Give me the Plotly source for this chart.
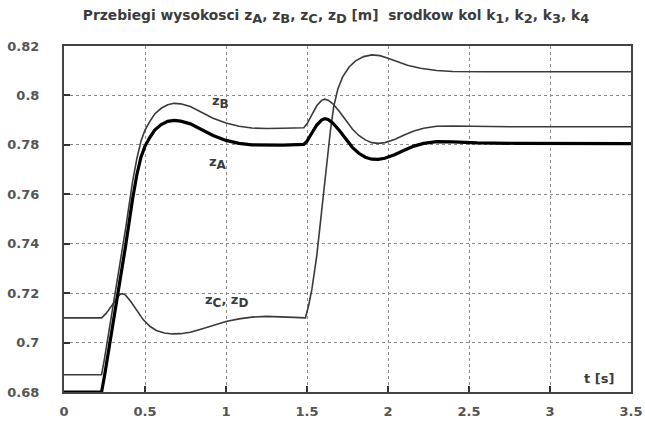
import plotly.graph_objects as go

t_A = [0, 0.232, 0.25, 0.30, 0.335, 0.38, 0.423, 0.45, 0.475, 0.50, 0.53, 0.56, 0.60, 0.64, 0.68, 0.72, 0.78, 0.85, 0.92, 1.0,
       1.08, 1.16, 1.25, 1.35, 1.48, 1.50, 1.53, 1.56, 1.59, 1.61, 1.63, 1.66, 1.70, 1.74, 1.78, 1.82, 1.86, 1.90, 1.94, 1.98,
       2.04, 2.10, 2.16, 2.22, 2.30, 2.40, 2.55, 2.8, 3.5]
z_A = [0.68, 0.68, 0.6865, 0.706, 0.72, 0.739, 0.758, 0.768, 0.775, 0.7795, 0.783, 0.786, 0.7882, 0.7895, 0.7899, 0.7896, 0.7885, 0.7862, 0.7838, 0.7818,
       0.7806, 0.7800, 0.7798, 0.7799, 0.7802, 0.7815, 0.7848, 0.7880, 0.7900, 0.7906, 0.7903, 0.7888, 0.7858, 0.7822, 0.7790, 0.7766, 0.7750, 0.7742, 0.7741, 0.7746,
       0.7760, 0.7778, 0.7795, 0.7806, 0.7813, 0.7812, 0.7808, 0.7806, 0.7805]

t_B = [0, 0.232, 0.25, 0.30, 0.335, 0.38, 0.423, 0.45, 0.475, 0.50, 0.53, 0.56, 0.60, 0.64, 0.68, 0.72, 0.78, 0.85, 0.92, 1.0,
       1.08, 1.16, 1.25, 1.35, 1.48, 1.50, 1.53, 1.56, 1.59, 1.61, 1.63, 1.66, 1.70, 1.74, 1.78, 1.82, 1.86, 1.90, 1.94, 1.98,
       2.04, 2.10, 2.16, 2.22, 2.30, 2.40, 2.55, 2.8, 3.5]
z_B = [0.687, 0.687, 0.6935, 0.713, 0.727, 0.746, 0.765, 0.7745, 0.7815, 0.786, 0.7895, 0.7925, 0.7948, 0.7962, 0.7968, 0.7966, 0.7955, 0.7932, 0.7908, 0.7888,
       0.7875, 0.7868, 0.7866, 0.7867, 0.7869, 0.7885, 0.7922, 0.7958, 0.7980, 0.7985, 0.7981, 0.7966, 0.7935, 0.7898, 0.7864, 0.7838, 0.7820, 0.7809, 0.7806, 0.7809,
       0.7822, 0.7840, 0.7856, 0.7867, 0.7875, 0.7876, 0.7874, 0.7873, 0.7873]

t_C = [0, 0.232, 0.26, 0.29, 0.32, 0.345, 0.36, 0.38, 0.41, 0.45, 0.49, 0.53, 0.57, 0.62, 0.67, 0.72, 0.78, 0.85, 0.92, 1.0,
       1.08, 1.16, 1.25, 1.35, 1.42, 1.49, 1.51, 1.53, 1.56, 1.59, 1.62, 1.645, 1.665, 1.69, 1.72, 1.76, 1.80, 1.85, 1.90, 1.95,
       2.00, 2.06, 2.12, 2.20, 2.30, 2.40, 2.6, 3.5]
z_C = [0.710, 0.710, 0.7118, 0.7145, 0.7175, 0.7195, 0.7198, 0.7192, 0.7168, 0.7128, 0.7092, 0.7066, 0.7049, 0.7039, 0.7035, 0.7036, 0.7042, 0.7055, 0.7070, 0.7085,
       0.7096, 0.7103, 0.7106, 0.7105, 0.7102, 0.7100, 0.7150, 0.7215, 0.7350, 0.7530, 0.7720, 0.7860, 0.7955, 0.8025, 0.8075, 0.8115, 0.8140, 0.8157, 0.8164, 0.8161,
       0.8150, 0.8135, 0.8122, 0.8110, 0.8101, 0.8097, 0.8096, 0.8096]

x_ticks = [0, 0.5, 1, 1.5, 2, 2.5, 3, 3.5]
x_tick_labels = ["0", "0.5", "1", "1.5", "2", "2.5", "3", "3.5"]
y_ticks = [0.68, 0.70, 0.72, 0.74, 0.76, 0.78, 0.80, 0.82]
y_tick_labels = ["0.68", "0.7", "0.72", "0.74", "0.76", "0.78", "0.8", "0.82"]

FONT = "DejaVu Sans, Arial, sans-serif"
TXT = "#3c3c3c"

def sub(s, size):
    return "<sub><span style='font-size:%dpx'>%s</span></sub>" % (size, s)

fig = go.Figure()
fig.add_trace(go.Scatter(x=t_C, y=z_C, mode="lines", line=dict(color="#3a3a3a", width=1.6)))
fig.add_trace(go.Scatter(x=t_B, y=z_B, mode="lines", line=dict(color="#3a3a3a", width=1.6)))
fig.add_trace(go.Scatter(x=t_A, y=z_A, mode="lines", line=dict(color="#000000", width=3.2)))

annots = [
    (0.965, 0.7975, "<b>z" + sub("B", 12) + "</b>"),
    (0.95, 0.7728, "<b>z" + sub("A", 12) + "</b>"),
    (1.0, 0.7168, "<b>z" + sub("C", 12) + ", z" + sub("D", 12) + "</b>"),
    (3.3, 0.6855, "<b>t [s]</b>"),
]
for x, y, txt in annots:
    fig.add_annotation(x=x, y=y, text=txt, showarrow=False, font=dict(family=FONT, size=13, color=TXT))

title_txt = ("<b>Przebiegi wysokosci z" + sub("A", 13) + ", z" + sub("B", 13) + ", z" + sub("C", 13) + ", z" + sub("D", 13) +
             " [m]  srodkow kol k" + sub("1", 13) + ", k" + sub("2", 13) + ", k" + sub("3", 13) + ", k" + sub("4", 13) + "</b>")

fig.update_layout(
    width=645, height=421,
    margin=dict(l=64, r=14, t=46, b=29, autoexpand=False),
    paper_bgcolor="white", plot_bgcolor="white",
    showlegend=False,
    title=dict(text=title_txt, x=0.521, xanchor="center", y=0.975, yanchor="top",
               font=dict(family=FONT, size=13.8, color=TXT)),
)
fig.update_xaxes(range=[0, 3.5], tickvals=x_ticks, ticktext=["<b>%s</b>" % s for s in x_tick_labels],
                 showgrid=True, gridcolor="#8a8a8a", griddash="dot", gridwidth=1,
                 ticks="inside", ticklen=6, tickwidth=2, tickcolor="#333",
                 showline=True, linecolor="#444", linewidth=2, mirror=True,
                 zeroline=False, ticklabelstandoff=6, automargin=False,
                 tickfont=dict(family=FONT, size=13, color="#555"))
fig.update_yaxes(range=[0.68, 0.82], tickvals=y_ticks, ticktext=["<b>%s</b>" % s for s in y_tick_labels],
                 showgrid=True, gridcolor="#8a8a8a", griddash="dot", gridwidth=1,
                 ticks="inside", ticklen=6, tickwidth=2, tickcolor="#333",
                 showline=True, linecolor="#444", linewidth=2, mirror=True,
                 zeroline=False, ticklabelstandoff=20, automargin=False,
                 tickfont=dict(family=FONT, size=13, color="#555"))

fig.write_html("out.html", config={"displayModeBar": False},
               post_script="document.body.style.margin='0px';document.body.style.overflow='hidden';")
